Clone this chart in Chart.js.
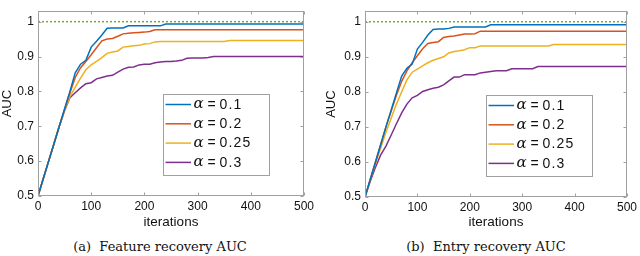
<!DOCTYPE html>
<html>
<head>
<meta charset="utf-8">
<script src="https://cdn.jsdelivr.net/npm/chart.js@4.4.1/dist/chart.umd.min.js"></script>
<style>
  body { margin: 0; background: #fff; }
  .panel { position: absolute; top: 0; width: 320px; height: 232px; }
  .caption {
    position: absolute; top: 239px; line-height: 16px;
    font-family: "DejaVu Serif", serif; font-size: 13px; color: #111;
    white-space: pre; transform: translateX(-50%);
  }
</style>
</head>
<body>
<div class="panel" style="left:0"><canvas id="featureChart"></canvas></div>
<div class="panel" style="left:320px"><canvas id="entryChart"></canvas></div>
<div class="caption" style="left:160px">(a)  Feature recovery AUC</div>
<div class="caption" style="left:486px">(b)  Entry recovery AUC</div>

<script>
// iterations sampled every 10 steps
const iterations = [0, 10, 20, 30, 40, 50, 60, 70, 80, 90, 100, 110, 120, 130, 140, 150, 160, 170, 180, 190, 200,
  210, 220, 230, 240, 250, 260, 270, 280, 290, 300, 310, 320, 330, 340, 350, 360, 370, 380, 390, 400,
  410, 420, 430, 440, 450, 460, 470, 480, 490, 500];

const alphaValues = ['0.1', '0.2', '0.25', '0.3'];
const seriesColors = ['#0072BD', '#D95319', '#EDB120', '#7E2F8E'];

// (a) feature recovery
const featAlpha01 = [0.5, 0.55, 0.6, 0.65, 0.7, 0.75, 0.80, 0.853, 0.878, 0.889, 0.927, 0.944, 0.962, 0.981, 0.982, 0.982, 0.982,
  0.988, 0.988, 0.988, 0.988, 0.988, 0.988, 0.988,
  0.993, 0.993, 0.993, 0.993, 0.993, 0.993, 0.993, 0.993, 0.993, 0.993, 0.993, 0.993, 0.993, 0.993,
  0.993, 0.993, 0.993, 0.993, 0.993, 0.993, 0.993, 0.993, 0.993, 0.993, 0.993, 0.993, 0.993];
const featAlpha02 = [0.5, 0.55, 0.6, 0.65, 0.7, 0.748, 0.795, 0.84, 0.868, 0.886, 0.905, 0.925, 0.945, 0.95, 0.952, 0.958,
  0.965, 0.967, 0.968, 0.969, 0.97, 0.972, 0.977,
  0.977, 0.977, 0.977, 0.977, 0.977, 0.977, 0.977, 0.977, 0.977, 0.977, 0.977, 0.977, 0.977, 0.977,
  0.977, 0.977, 0.977, 0.977, 0.977, 0.977, 0.977, 0.977, 0.977, 0.977, 0.977, 0.977, 0.977, 0.977];
const featAlpha025 = [0.5, 0.55, 0.6, 0.65, 0.7, 0.745, 0.785, 0.812, 0.838, 0.862, 0.876, 0.886, 0.897, 0.909, 0.913, 0.916,
  0.927, 0.929, 0.931, 0.932, 0.936, 0.937, 0.942,
  0.943, 0.943, 0.943, 0.943, 0.943, 0.943, 0.943, 0.943, 0.943, 0.943, 0.943, 0.943, 0.943,
  0.946, 0.946, 0.946, 0.946, 0.946, 0.946, 0.946, 0.946, 0.946, 0.946, 0.946, 0.946, 0.946, 0.946, 0.946];
const featAlpha03 = [0.5, 0.55, 0.6, 0.65, 0.7, 0.745, 0.782, 0.796, 0.81, 0.822, 0.825, 0.836, 0.84, 0.844, 0.846, 0.855,
  0.864, 0.869, 0.87, 0.876, 0.878, 0.878, 0.882, 0.884, 0.886, 0.886, 0.887, 0.889, 0.895, 0.896, 0.896,
  0.896, 0.897, 0.9, 0.9, 0.9, 0.9, 0.9, 0.9, 0.9, 0.9, 0.9, 0.9, 0.9, 0.9, 0.9, 0.9, 0.9, 0.9, 0.9, 0.9];

// (b) entry recovery
const entryAlpha01 = [0.5, 0.55, 0.6, 0.65, 0.7, 0.748, 0.797, 0.845, 0.867, 0.879, 0.922, 0.941, 0.962, 0.978, 0.979, 0.979,
  0.981, 0.985, 0.985, 0.985, 0.985, 0.985, 0.985, 0.985,
  0.991, 0.991, 0.991, 0.991, 0.991, 0.991, 0.991, 0.991, 0.991, 0.991, 0.991, 0.991, 0.991, 0.991,
  0.991, 0.991, 0.991, 0.991, 0.991, 0.991, 0.991, 0.991, 0.991, 0.991, 0.991, 0.991, 0.991];
const entryAlpha02 = [0.5, 0.55, 0.6, 0.65, 0.7, 0.745, 0.79, 0.83, 0.86, 0.883, 0.903, 0.923, 0.938, 0.941, 0.943, 0.955,
  0.958, 0.959, 0.962, 0.965, 0.965, 0.966, 0.973,
  0.973, 0.973, 0.973, 0.973, 0.973, 0.973, 0.973, 0.973, 0.973, 0.973, 0.973, 0.973, 0.973, 0.973,
  0.973, 0.973, 0.973, 0.973, 0.973, 0.973, 0.973, 0.973, 0.973, 0.973, 0.973, 0.973, 0.973, 0.973];
const entryAlpha025 = [0.5, 0.55, 0.595, 0.64, 0.685, 0.725, 0.765, 0.80, 0.834, 0.856, 0.865, 0.874, 0.883, 0.89, 0.895, 0.9,
  0.911, 0.915, 0.917, 0.92, 0.926, 0.926, 0.931,
  0.931, 0.931, 0.931, 0.931, 0.931, 0.931, 0.931, 0.931, 0.931, 0.931, 0.931, 0.931, 0.931,
  0.935, 0.935, 0.935, 0.935, 0.935, 0.935, 0.935, 0.935, 0.935, 0.935, 0.935, 0.935, 0.935, 0.935, 0.935];
const entryAlpha03 = [0.5, 0.545, 0.585, 0.62, 0.645, 0.677, 0.709, 0.74, 0.765, 0.783, 0.79, 0.801, 0.806, 0.81, 0.813, 0.82,
  0.831, 0.842, 0.842, 0.849, 0.849, 0.849, 0.854, 0.856, 0.858, 0.86, 0.86, 0.86, 0.866, 0.866, 0.866,
  0.866, 0.866, 0.872, 0.872, 0.872, 0.872, 0.872, 0.872, 0.872, 0.872, 0.872, 0.872, 0.872, 0.872, 0.872,
  0.872, 0.872, 0.872, 0.872, 0.872];

// dotted reference at AUC = 1
const refIterations = [0, 500];
const refAUC = [1, 1];

const xTickValues = [0, 100, 200, 300, 400, 500];
const yTickValues = [0.5, 0.6, 0.7, 0.8, 0.9, 1];
const yTickLabels = ['0.5', '0.6', '0.7', '0.8', '0.9', '1'];

const axisColor = '#a0a0a0';
const textColor = '#111';
const sansFont = '"Liberation Sans", Arial, sans-serif';

// box around the plot + MATLAB-style inward ticks on all four sides
const matlabAxes = {
  id: 'matlabAxes',
  afterDatasetsDraw(chart) {
    const { ctx, chartArea: a, scales: { x, y } } = chart;
    ctx.save();
    ctx.strokeStyle = axisColor;
    ctx.lineWidth = 1;
    const L = Math.round(a.left) + 0.5, R = Math.round(a.right) - 0.5;
    const T = Math.round(a.top) + 0.5, B = Math.round(a.bottom) - 0.5;
    ctx.strokeRect(L, T, R - L, B - T);
    ctx.beginPath();
    x.ticks.forEach(t => {
      const px = Math.round(x.getPixelForValue(t.value)) + 0.5;
      ctx.moveTo(px, B); ctx.lineTo(px, B - 3);
      ctx.moveTo(px, T); ctx.lineTo(px, T + 3);
    });
    y.ticks.forEach(t => {
      const py = Math.round(y.getPixelForValue(t.value)) + 0.5;
      ctx.moveTo(L, py); ctx.lineTo(L + 3, py);
      ctx.moveTo(R, py); ctx.lineTo(R - 3, py);
    });
    ctx.stroke();
    ctx.restore();
  }
};

// legend box inside the plot, lower right
const insetLegend = {
  id: 'insetLegend',
  afterDraw(chart) {
    const { ctx, chartArea: a } = chart;
    const w = 106, h = 81;
    const bx = Math.round(a.right - 35 - w), by = Math.round(a.bottom - 21 - h);
    ctx.save();
    ctx.fillStyle = '#fff';
    ctx.fillRect(bx, by, w, h);
    ctx.strokeStyle = axisColor;
    ctx.lineWidth = 1;
    ctx.strokeRect(bx + 0.5, by + 0.5, w, h);
    alphaValues.forEach((v, i) => {
      const ry = by + 10.5 + i * 19.3;
      ctx.strokeStyle = seriesColors[i];
      ctx.lineWidth = 1.5;
      ctx.beginPath();
      ctx.moveTo(bx + 2.5, ry);
      ctx.lineTo(bx + 28, ry);
      ctx.stroke();
      ctx.fillStyle = textColor;
      ctx.textBaseline = 'middle';
      ctx.textAlign = 'left';
      ctx.font = 'italic 15px "DejaVu Serif", serif';
      ctx.fillText('α', bx + 30.5, ry);
      const aw = ctx.measureText('α').width;
      ctx.font = '14px ' + sansFont;
      ctx.fillText(' = ' + v.split('').join('\u200A'), bx + 30.5 + aw, ry + 0.5);
    });
    ctx.restore();
  }
};

function makeChart(canvasId, series, box) {
  const datasets = series.map((vals, i) => ({
    label: 'α = ' + alphaValues[i],
    data: iterations.map((it, k) => ({ x: it, y: vals[k] })),
    borderColor: seriesColors[i],
    borderWidth: 1.5,
    pointRadius: 0,
    tension: 0,
    fill: false
  }));
  datasets.push({
    label: 'reference',
    data: refIterations.map((it, k) => ({ x: it, y: refAUC[k] })),
    borderColor: '#77AC30',
    borderWidth: 1.5,
    borderDash: [2, 2],
    pointRadius: 0
  });

  return new Chart(document.getElementById(canvasId), {
    type: 'line',
    data: { datasets },
    options: {
      responsive: true,
      maintainAspectRatio: false,
      devicePixelRatio: 1,
      animation: false,
      layout: { padding: { top: box.top, right: box.right, left: 0, bottom: 0 } },
      plugins: { legend: { display: false }, tooltip: { enabled: false } },
      scales: {
        x: {
          type: 'linear',
          min: 0,
          max: 500,
          afterBuildTicks: s => { s.ticks = xTickValues.map(v => ({ value: v })); },
          afterFit: s => { s.height = box.xHeight; },
          grid: { display: false, drawTicks: false, tickLength: 0 },
          border: { display: false },
          ticks: { padding: 3, color: textColor, font: { family: sansFont, size: 12 }, maxRotation: 0 },
          title: {
            display: true, text: 'iterations', color: textColor,
            font: { family: sansFont, size: 13.5 }, padding: { top: 0, bottom: 2 }
          }
        },
        y: {
          min: 0.5,
          max: 1.03,
          afterBuildTicks: s => { s.ticks = yTickValues.map(v => ({ value: v })); },
          afterFit: s => { s.width = box.yWidth; },
          grid: { display: false, drawTicks: false, tickLength: 0 },
          border: { display: false },
          ticks: {
            padding: 4, color: textColor, font: { family: sansFont, size: 12 },
            callback: (v) => yTickLabels[yTickValues.indexOf(v)]
          },
          title: {
            display: true, text: 'AUC', color: textColor,
            font: { family: sansFont, size: 13 }, padding: { top: box.titlePad, bottom: 0 }
          }
        }
      }
    },
    plugins: [matlabAxes, insetLegend]
  });
}

Promise.all([
  document.fonts.load('12px "Liberation Sans"'),
  document.fonts.load('italic 15px "DejaVu Serif"')
]).catch(() => {}).then(() => {
  makeChart('featureChart', [featAlpha01, featAlpha02, featAlpha025, featAlpha03],
    { top: 1, right: 16, xHeight: 36, yWidth: 38, titlePad: 0 });
  makeChart('entryChart', [entryAlpha01, entryAlpha02, entryAlpha025, entryAlpha03],
    { top: 2, right: 10, xHeight: 35, yWidth: 45, titlePad: 4 });
});
</script>
</body>
</html>
